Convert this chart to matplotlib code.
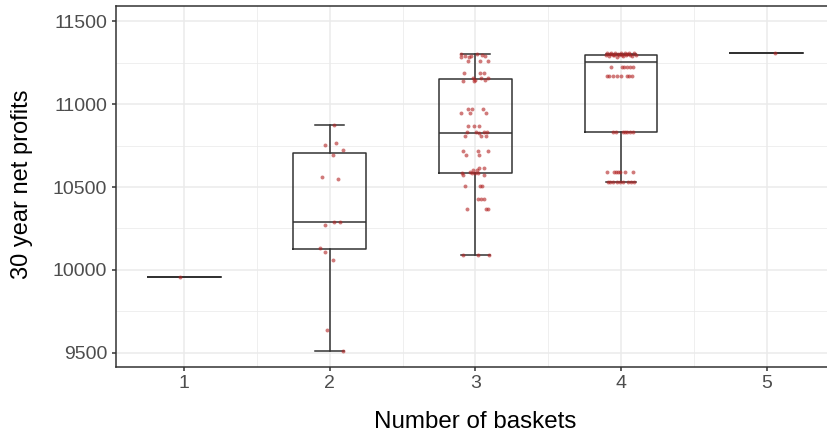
import numpy as np
import matplotlib
matplotlib.use("Agg")
import matplotlib.pyplot as plt
from matplotlib.ticker import FixedLocator

plt.rcParams['font.family'] = ['Liberation Sans', 'DejaVu Sans']

# categories on the x axis
baskets = [1, 2, 3, 4, 5]

# box statistics: whisker low, Q1, median, Q3, whisker high
whis_lo = [9955, 9512, 10090, 10528, 11309]
q1 = [9955, 10124, 10586, 10834, 11309]
medians = [9955, 10289, 10828, 11254, 11309]
q3 = [9955, 10707, 11150, 11298, 11309]
whis_hi = [9955, 10872, 11301, 11305, 11309]

# jittered points: horizontal offset from category centre, and value
g1_off = [-0.030]
g1_val = [9955]

g2_off = [0.027, -0.034, 0.039, 0.089, 0.025, -0.053, 0.055, 0.027, 0.067,
          -0.030, -0.071, -0.036, 0.023, -0.019, 0.091]
g2_val = [10872, 10755, 10764, 10721, 10691, 10559, 10548, 10289, 10289,
          10269, 10134, 10110, 10062, 9637, 9512]

g3_off = [-0.096, -0.101, -0.071, -0.041, -0.030, 0.011, 0.043, 0.064, -0.050, 0.034, 0.085,
          -0.078, 0.030, 0.060,
          -0.087, -0.014, 0.000, 0.037, 0.069, 0.085, -0.007,
          -0.053, -0.027, 0.050,
          -0.096, -0.039, 0.071,
          -0.048, -0.011, 0.023,
          -0.055, 0.007, 0.027, 0.080, 0.057, -0.071, 0.039, 0.071,
          -0.087, 0.016, 0.087,
          -0.062, 0.027,
          0.023, 0.062, 0.009, -0.018, -0.034, -0.094, -0.087, -0.023, 0.000, 0.016, 0.057,
          -0.069, 0.032, 0.046,
          0.018, 0.039, 0.062,
          -0.060, 0.073, 0.085,
          -0.087, 0.016, 0.096]
g3_val = [11301, 11287, 11291, 11287, 11293, 11301, 11297, 11291, 11260, 11258, 11258,
          11190, 11190, 11190,
          11142, 11160, 11146, 11158, 11146, 11156, 11142,
          10969, 10969, 10969,
          10945, 10945, 10945,
          10870, 10870, 10870,
          10830, 10830, 10824, 10830, 10830, 10810, 10810, 10810,
          10719, 10719, 10719,
          10693, 10693,
          10617, 10617, 10603, 10603, 10593, 10582, 10572, 10582, 10582, 10587, 10572,
          10506, 10506, 10506,
          10426, 10426, 10426,
          10365, 10365, 10365,
          10090, 10090, 10090]

g4_off = [-0.103, -0.094, -0.085, -0.076, -0.066, -0.057, -0.048, -0.039, -0.030, -0.021, -0.011,
          -0.002, 0.007, 0.016, 0.025, 0.034, 0.043, 0.053, 0.062, 0.076, 0.089, 0.103,
          -0.071, 0.005, 0.021, 0.039, 0.062, 0.082,
          -0.098, -0.085, -0.053, -0.030, -0.002, 0.039, 0.055, 0.078,
          -0.053, -0.037, 0.011, 0.027, 0.043, 0.062, 0.085,
          -0.098, -0.050, -0.036, -0.023, -0.007, 0.030, 0.080,
          -0.091, -0.076, -0.053, -0.030, -0.007, 0.016, 0.046, 0.067, 0.091]
g4_val = [11299, 11307, 11291, 11303, 11311, 11295, 11299, 11307, 11287, 11303, 11295,
          11311, 11299, 11291, 11307, 11295, 11303, 11311, 11299, 11291, 11307, 11299,
          11226, 11226, 11226, 11226, 11226, 11226,
          11170, 11170, 11170, 11170, 11170, 11170, 11170, 11170,
          10834, 10834, 10834, 10834, 10834, 10834, 10834,
          10588, 10588, 10588, 10588, 10588, 10588, 10588,
          10528, 10528, 10528, 10528, 10528, 10528, 10528, 10528, 10528]

g5_off = [0.057]
g5_val = [11309]

offsets = [g1_off, g2_off, g3_off, g4_off, g5_off]
values = [g1_val, g2_val, g3_val, g4_val, g5_val]

yticks = [9500, 10000, 10500, 11000, 11500]

fig = plt.figure(figsize=(8.27, 4.34), dpi=100)
ax = fig.add_axes([0.1399, 0.1544, 0.870, 0.8325])

stats = []
for i in range(len(baskets)):
    stats.append(dict(whislo=whis_lo[i], q1=q1[i], med=medians[i],
                      q3=q3[i], whishi=whis_hi[i], fliers=[]))

line = dict(color='#333333', linewidth=1.1)
ax.bxp(stats, positions=baskets, widths=0.5, capwidths=0.2, showfliers=False,
       boxprops=line, whiskerprops=line, capprops=line,
       medianprops=line, zorder=3)

for b, off, val in zip(baskets, offsets, values):
    xs = b + np.array(off)
    ax.scatter(xs, val, s=8, color='#B22222', alpha=0.6, linewidths=0, zorder=4)

ax.set_xlim(0.529, 5.471)
ax.set_ylim(9414, 11594)
ax.set_xticks(baskets)
ax.set_xticklabels([str(b) for b in baskets])
ax.set_yticks(yticks)
ax.xaxis.set_minor_locator(FixedLocator([1.5, 2.5, 3.5, 4.5]))
ax.yaxis.set_minor_locator(FixedLocator([9750, 10250, 10750, 11250]))

ax.grid(True, which='major', color='#EBEBEB', linewidth=1.1, zorder=0)
ax.grid(True, which='minor', color='#EBEBEB', linewidth=0.55, zorder=0)
ax.set_axisbelow(True)

for sp in ax.spines.values():
    sp.set_color('#333333')
    sp.set_linewidth(1.1)

ax.tick_params(which='major', length=3, width=1.1, color='#333333',
               labelsize=14, labelcolor='#4D4D4D', pad=3)
ax.tick_params(which='minor', length=0)

fig.text(0.5748, 0.028, 'Number of baskets', ha='center', va='center', fontsize=17.4)
fig.text(0.026, 1 - 184 / 434, '30 year net profits', ha='center', va='center',
         rotation=90, fontsize=17)

fig.savefig('out.png', dpi=100)
